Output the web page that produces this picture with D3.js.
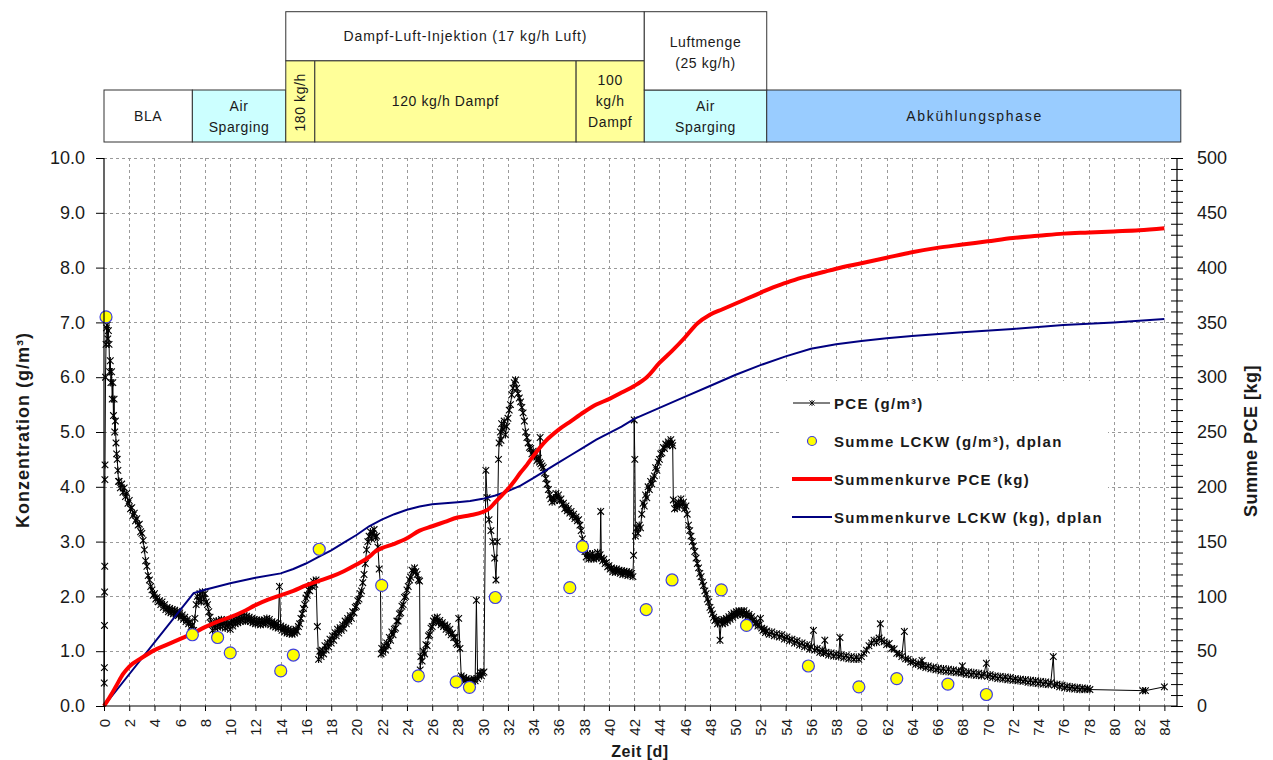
<!DOCTYPE html>
<html><head><meta charset="utf-8">
<script src="https://cdn.jsdelivr.net/npm/d3@7"></script>
<style>
body{margin:0;background:#fff;}
svg{display:block;font-family:"Liberation Sans",Arial,sans-serif;}
</style></head><body>
<svg id="chart" width="1273" height="760"></svg>
<script>
// ---------- data ----------
const xTicks = d3.range(0, 85, 2);          // Zeit [d]
const yTicks = d3.range(0, 11, 1);          // Konzentration (g/m³)
const y2Ticks = d3.range(0, 501, 10);       // Summe PCE [kg], tick marks
const y2Labels = d3.range(0, 501, 50);      // Summe PCE [kg], labelled ticks

// PCE concentration in soil air [day, g/m³]
const pceSeries = [
 [0.02,0.42],[0.03,0.70],[0.04,1.47],[0.05,2.08],[0.06,2.55],[0.07,4.13],[0.08,4.40],[0.12,6.0],[0.16,6.6],
 [0.2,6.9],[0.25,6.95],[0.3,6.7],[0.35,6.85],[0.4,6.6],[0.45,6.1],[0.5,6.3],[0.55,5.9],[0.6,6.1],[0.65,5.6],
 [0.7,5.9],[0.75,5.3],[0.8,5.6],[0.85,5.0],[0.9,5.2],[0.95,4.8],[1.0,4.6],[1.05,4.5],[1.1,4.3],[1.15,4.1],
 [1.2,4.1],[1.3,3.98],[1.4,4.05],[1.5,3.9],[1.6,3.98],[1.7,3.82],[1.8,3.88],[1.9,3.7],[2.0,3.75],[2.1,3.6],
 [2.2,3.62],[2.3,3.48],[2.4,3.52],[2.5,3.38],[2.6,3.42],[2.7,3.3],[2.8,3.32],[2.9,3.18],[3.0,3.15],[3.1,3.02],
 [3.2,2.85],[3.3,2.65],[3.4,2.55],[3.5,2.38],[3.6,2.3],[3.7,2.18],[3.8,2.12],[3.9,2.02],[4.0,2.05],[4.1,1.95],
 [4.2,1.98],[4.3,1.9],[4.4,1.92],[4.5,1.85],[4.6,1.9],[4.7,1.8],[4.8,1.85],[4.9,1.76],[5.0,1.8],[5.1,1.72],
 [5.2,1.78],[5.3,1.7],[5.4,1.76],[5.5,1.68],[5.6,1.75],[5.7,1.68],[5.8,1.73],[5.9,1.65],[6.0,1.7],[6.1,1.62],
 [6.2,1.66],[6.3,1.58],[6.4,1.62],[6.5,1.54],[6.6,1.58],[6.7,1.5],[6.8,1.54],[6.9,1.45],[7.0,1.48],[7.1,1.38],
 [7.2,1.6],[7.3,1.85],[7.4,2.0],[7.5,1.92],[7.6,2.05],[7.7,1.9],[7.8,2.08],[7.9,1.95],[8.0,2.05],[8.1,1.9],
 [8.2,1.85],[8.3,1.72],[8.4,1.62],[8.5,1.5],[8.6,1.38],[8.7,1.5],[8.8,1.42],[8.9,1.55],[9.0,1.44],[9.1,1.55],
 [9.2,1.45],[9.3,1.58],[9.4,1.46],[9.5,1.56],[9.6,1.42],[9.7,1.54],[9.8,1.44],[9.9,1.52],[10.0,1.4],[10.1,1.55],
 [10.2,1.46],[10.3,1.58],[10.4,1.5],[10.5,1.6],[10.6,1.52],[10.7,1.62],[10.8,1.54],[10.9,1.64],[11.0,1.56],
 [11.1,1.65],[11.2,1.55],[11.3,1.64],[11.4,1.56],[11.5,1.62],[11.6,1.54],[11.7,1.6],[11.8,1.52],[11.9,1.58],
 [12.0,1.5],[12.1,1.57],[12.2,1.5],[12.3,1.56],[12.4,1.48],[12.5,1.56],[12.6,1.5],[12.7,1.57],[12.8,1.5],
 [12.9,1.6],[13.0,1.52],[13.1,1.58],[13.2,1.48],[13.3,1.54],[13.4,1.46],[13.5,1.52],[13.6,1.44],[13.7,1.5],
 [13.8,1.42],[13.9,2.18],[14.0,1.46],[14.1,1.38],[14.2,1.44],[14.3,1.35],[14.4,1.42],[14.5,1.33],[14.6,1.4],
 [14.7,1.32],[14.8,1.38],[14.9,1.31],[15.0,1.37],[15.1,1.33],[15.2,1.4],[15.3,1.36],[15.4,1.45],[15.5,1.5],
 [15.6,1.6],[15.7,1.68],[15.8,1.78],[15.9,1.85],[16.0,1.97],[16.1,2.02],[16.2,2.12],[16.3,2.1],[16.4,2.2],
 [16.5,2.18],[16.6,2.27],[16.7,2.22],[16.8,2.3],[16.9,1.45],[17.0,0.85],[17.1,1.0],[17.2,0.9],[17.3,1.02],
 [17.4,0.95],[17.5,1.1],[17.6,1.02],[17.7,1.15],[17.8,1.08],[17.9,1.22],[18.0,1.15],[18.1,1.28],[18.2,1.2],
 [18.3,1.34],[18.4,1.28],[18.5,1.4],[18.6,1.33],[18.7,1.43],[18.8,1.38],[18.9,1.48],[19.0,1.42],[19.1,1.55],
 [19.2,1.5],[19.3,1.6],[19.4,1.55],[19.5,1.65],[19.6,1.6],[19.7,1.72],[19.8,1.7],[19.9,1.8],[20.0,1.82],
 [20.1,1.92],[20.2,1.95],[20.3,2.05],[20.4,2.1],[20.5,2.25],[20.6,2.4],[20.7,2.6],[20.8,2.85],[20.9,3.0],
 [21.0,3.1],[21.1,3.18],[21.2,3.05],[21.3,3.15],[21.4,3.22],[21.5,3.08],[21.6,3.1],[21.7,2.9],[21.8,2.5],
 [21.9,2.2],[21.95,0.95],[22.0,1.05],[22.1,0.98],[22.2,1.1],[22.3,1.02],[22.4,1.15],[22.5,1.1],[22.6,1.25],
 [22.7,1.2],[22.8,1.35],[22.9,1.3],[23.0,1.4],[23.1,1.42],[23.2,1.55],[23.3,1.55],[23.4,1.68],[23.5,1.7],
 [23.6,1.82],[23.7,1.85],[23.8,1.98],[23.9,2.0],[24.0,2.12],[24.1,2.18],[24.2,2.3],[24.3,2.35],[24.4,2.48],
 [24.5,2.45],[24.6,2.52],[24.7,2.45],[24.8,2.4],[24.9,2.3],[25.0,2.28],[25.05,0.66],[25.1,0.9],[25.2,0.82],
 [25.3,1.0],[25.4,0.95],[25.5,1.12],[25.6,1.1],[25.7,1.28],[25.8,1.3],[25.9,1.42],[26.0,1.45],[26.1,1.55],
 [26.2,1.6],[26.3,1.55],[26.4,1.62],[26.5,1.52],[26.6,1.56],[26.7,1.48],[26.8,1.52],[26.9,1.45],[27.0,1.48],
 [27.1,1.4],[27.2,1.45],[27.3,1.35],[27.4,1.4],[27.5,1.3],[27.6,1.33],[27.7,1.25],[27.8,1.25],[27.9,1.15],
 [28.0,1.12],[28.1,1.6],[28.2,1.05],[28.3,0.55],[28.4,0.5],[28.5,0.52],[28.6,0.46],[28.7,0.5],[28.8,0.44],
 [28.9,0.48],[29.0,0.44],[29.1,0.47],[29.2,0.45],[29.3,0.5],[29.4,0.46],[29.5,1.93],[29.6,0.5],[29.7,0.55],
 [29.8,0.62],[29.9,0.55],[30.0,0.6],[30.1,0.62],[30.25,4.3],[30.35,3.8],[30.5,3.4],[30.65,3.2],[30.8,3.0],
 [30.95,2.7],[31.05,2.3],[31.15,3.0],[31.25,4.5],[31.3,4.8],[31.4,5.0],[31.45,4.85],[31.5,5.15],[31.6,5.05],
 [31.7,5.2],[31.8,4.95],[31.9,5.1],[32.0,5.25],[32.1,5.4],[32.2,5.5],[32.3,5.68],[32.4,5.8],[32.5,5.9],
 [32.6,5.95],[32.7,5.8],[32.8,5.7],[32.9,5.62],[33.0,5.55],[33.1,5.45],[33.2,5.35],[33.3,5.2],[33.4,5.0],
 [33.5,4.9],[33.6,4.8],[33.7,4.72],[33.8,4.7],[33.9,4.6],[34.0,4.65],[34.1,4.55],[34.2,4.6],[34.3,4.48],
 [34.4,4.52],[34.5,4.45],[34.55,4.9],[34.6,4.42],[34.7,4.38],[34.8,4.35],[34.9,4.25],[35.0,4.15],[35.1,4.05],
 [35.2,3.95],[35.3,3.85],[35.4,3.78],[35.5,3.72],[35.6,3.8],[35.7,3.75],[35.8,3.88],[35.9,3.8],[36.0,3.85],
 [36.1,3.75],[36.2,3.78],[36.3,3.68],[36.4,3.7],[36.5,3.6],[36.6,3.65],[36.7,3.56],[36.8,3.6],[36.9,3.52],
 [37.0,3.55],[37.1,3.46],[37.2,3.5],[37.3,3.42],[37.4,3.45],[37.5,3.38],[37.6,3.4],[37.7,3.3],[37.8,3.2],
 [37.9,3.05],[38.0,2.95],[38.1,2.82],[38.2,2.72],[38.3,2.78],[38.4,2.68],[38.5,2.76],[38.6,2.7],[38.7,2.78],
 [38.8,2.68],[38.9,2.74],[39.0,2.7],[39.1,2.8],[39.2,2.72],[39.3,2.76],[39.35,3.55],[39.4,2.7],[39.5,2.65],
 [39.6,2.68],[39.7,2.6],[39.8,2.62],[39.9,2.54],[40.0,2.56],[40.1,2.5],[40.2,2.52],[40.3,2.45],[40.4,2.5],
 [40.5,2.44],[40.6,2.5],[40.7,2.46],[40.8,2.48],[40.9,2.42],[41.0,2.47],[41.1,2.4],[41.2,2.46],[41.3,2.42],
 [41.4,2.45],[41.5,2.38],[41.6,2.44],[41.7,2.4],[41.8,2.42],[41.9,2.36],[41.95,2.75],[42.0,5.22],[42.05,4.5],
 [42.1,3.1],[42.2,3.25],[42.3,3.15],[42.4,3.3],[42.5,3.25],[42.6,3.5],[42.7,3.7],[42.8,3.65],[42.9,3.85],
 [43.0,3.8],[43.1,4.0],[43.2,3.95],[43.3,4.1],[43.4,4.05],[43.5,4.15],[43.6,4.2],[43.7,4.35],[43.8,4.3],
 [43.9,4.45],[44.0,4.5],[44.1,4.6],[44.2,4.62],[44.3,4.72],[44.4,4.7],[44.5,4.78],[44.6,4.75],[44.7,4.82],
 [44.8,4.78],[44.9,4.86],[45.0,4.8],[45.05,4.75],[45.1,3.76],[45.2,3.6],[45.3,3.7],[45.4,3.62],[45.5,3.72],
 [45.6,3.65],[45.7,3.78],[45.8,3.68],[45.9,3.72],[46.0,3.6],[46.1,3.65],[46.2,3.5],[46.3,3.3],[46.4,3.2],
 [46.5,3.1],[46.6,3.0],[46.7,2.92],[46.8,2.82],[46.9,2.7],[47.0,2.6],[47.1,2.52],[47.2,2.42],[47.3,2.36],
 [47.4,2.26],[47.5,2.2],[47.6,2.1],[47.7,2.05],[47.8,1.95],[47.9,1.9],[48.0,1.8],[48.1,1.75],[48.2,1.68],
 [48.3,1.62],[48.4,1.56],[48.5,1.58],[48.6,1.5],[48.7,1.55],[48.8,1.2],[48.9,1.56],[49.0,1.5],[49.1,1.58],
 [49.2,1.52],[49.3,1.6],[49.4,1.55],[49.5,1.63],[49.6,1.58],[49.7,1.67],[49.8,1.62],[49.9,1.7],[50.0,1.65],
 [50.1,1.72],[50.2,1.67],[50.3,1.74],[50.4,1.68],[50.5,1.73],[50.6,1.67],[50.7,1.74],[50.8,1.66],[50.9,1.7],
 [51.0,1.63],[51.1,1.67],[51.2,1.6],[51.3,1.63],[51.4,1.55],[51.5,1.58],[51.6,1.5],[51.7,1.53],[51.8,1.46],
 [51.9,1.48],[52.0,1.6],[52.1,1.42],[52.2,1.38],[52.3,1.4],[52.4,1.34],[52.5,1.37],[52.7,1.31],[52.9,1.35],
 [53.1,1.28],[53.3,1.32],[53.5,1.26],[53.7,1.3],[53.9,1.22],[54.1,1.26],[54.3,1.19],[54.5,1.22],[54.7,1.15],
 [54.9,1.19],[55.1,1.11],[55.3,1.15],[55.5,1.08],[55.7,1.12],[55.9,1.04],[56.0,1.08],[56.2,1.38],[56.3,1.02],
 [56.5,1.05],[56.7,0.98],[56.9,1.02],[57.0,0.96],[57.1,1.2],[57.2,0.98],[57.4,0.93],[57.6,0.97],[57.8,0.91],
 [58.0,0.95],[58.2,0.9],[58.3,1.25],[58.4,0.93],[58.6,0.88],[58.8,0.92],[59.0,0.86],[59.2,0.9],[59.4,0.85],
 [59.6,0.89],[59.8,0.85],[60.0,0.9],[60.2,0.96],[60.4,1.02],[60.6,1.1],[60.8,1.15],[61.0,1.2],[61.2,1.16],
 [61.4,1.24],[61.5,1.5],[61.6,1.2],[61.8,1.17],[62.0,1.12],[62.2,1.14],[62.4,1.05],[62.6,1.04],[62.8,0.96],
 [63.0,0.95],[63.2,0.9],[63.4,1.36],[63.5,0.86],[63.7,0.85],[63.9,0.8],[64.1,0.81],[64.3,0.76],[64.5,0.78],
 [64.7,0.73],[64.8,0.83],[64.9,0.74],[65.1,0.7],[65.3,0.73],[65.5,0.68],[65.7,0.71],[65.9,0.66],[66.1,0.69],
 [66.3,0.64],[66.5,0.68],[66.7,0.63],[66.9,0.67],[67.1,0.62],[67.3,0.66],[67.5,0.61],[67.7,0.64],[67.9,0.6],
 [68.0,0.73],[68.1,0.62],[68.3,0.58],[68.5,0.62],[68.7,0.57],[68.9,0.61],[69.1,0.56],[69.3,0.6],[69.5,0.55],
 [69.7,0.58],[69.9,0.78],[70.0,0.54],[70.2,0.57],[70.4,0.52],[70.6,0.55],[70.8,0.5],[71.0,0.54],[71.2,0.49],
 [71.4,0.53],[71.6,0.48],[71.8,0.52],[72.0,0.47],[72.2,0.5],[72.4,0.46],[72.6,0.49],[72.8,0.45],[73.0,0.48],
 [73.2,0.43],[73.4,0.47],[73.6,0.42],[73.8,0.46],[74.0,0.41],[74.2,0.45],[74.4,0.4],[74.6,0.44],[74.8,0.39],
 [75.0,0.42],[75.2,0.9],[75.3,0.38],[75.5,0.4],[75.7,0.35],[75.9,0.38],[76.1,0.33],[76.3,0.36],[76.5,0.32],
 [76.7,0.35],[76.9,0.31],[77.1,0.34],[77.3,0.3],[77.5,0.33],[77.7,0.3],[77.9,0.32],[78.1,0.3],[82.3,0.28],
 [82.5,0.28],[84.0,0.35]
];

// Summe LCKW, dplan [day, g/m³]
const lckwPoints = [
 [0.16,7.10],[7.0,1.30],[9.0,1.25],[10.0,0.97],[14.0,0.64],[15.0,0.93],[17.05,2.86],[22.0,2.2],[24.9,0.55],
 [27.9,0.44],[28.95,0.34],[31.0,1.98],[36.9,2.16],[37.9,2.91],[42.95,1.76],[45.0,2.3],[48.9,2.12],[50.9,1.47],
 [55.8,0.73],[59.8,0.35],[62.8,0.5],[66.85,0.4],[69.9,0.21]
];

// Summenkurve PCE [day, kg]
const pceCumulative = [
 [0,0],[0.5,9],[1,19],[1.5,29],[2,36],[3,44],[4,51],[5,56],[6,61],[7,66],[8,72],[9,77],[10,81],[11,86],
 [12,92],[13,97],[14,101],[15,105],[16,110],[17,114],[18,118],[19,123],[20,129],[21,136],[21.5,141],[22,144],
 [23,148],[24,153],[25,160],[26,164],[27,168],[28,172],[29,174],[30,177],[30.5,180],[31,186],[31.5,192],
 [32,198],[32.5,205],[33,213],[33.5,220],[34,228],[35,242],[36,252],[37,260],[38,268],[39,275],[40,280],
 [41,286],[42,292],[43,300],[44,313],[45,324],[46,336],[47,349],[48,357],[49,362],[50,367],[51,372],[52,377],
 [53,382],[54,386],[55,390],[56,393],[57,396],[58,399],[60,404],[62,409],[64,414],[66,418],[68,421],[70,424],
 [72,427],[74,429],[76,431],[78,432],[80,433],[82,434],[84,436]
];

// Summenkurve LCKW, dplan [day, kg]
const lckwCumulative = [
 [0,0],[7.1,103],[8,106],[9,109],[10,112],[12,117],[14,121],[15,125],[16,130],[17,136],[18,142],[19,149],
 [20,156],[21,164],[22,170],[23,175],[24,179],[25,182],[26,184],[27,185],[28,186],[29,187],[30,189],[31,192],
 [32,196],[33,201],[34,208],[35,215],[36,222],[37,229],[38,236],[39,243],[40,249],[41,255],[42,262],[43,267],
 [44,272],[46,282],[48,292],[50,302],[52,311],[54,319],[56,326],[58,330],[60,333],[62,335.5],[64,337.6],
 [68,341],[72,344],[76,347.6],[80,350],[84,353]
];

// Operating phases (day boundaries) shown above the plot
const phaseBounds = [0, 7, 14.4, 16.7, 37.4, 42.8, 52.5, 85.3];
const phaseLabels = [["BLA"], ["Air", "Sparging"], ["180 kg/h"], ["120 kg/h Dampf"], ["100", "kg/h", "Dampf"], ["Air", "Sparging"], ["Abkühlungsphase"]];
const phaseFills = ["#ffffff", "#ccffff", "#ffff99", "#ffff99", "#ffff99", "#ccffff", "#99ccff"];
const injectionSpan = [14.4, 42.8];
const injectionLabel = "Dampf-Luft-Injektion (17 kg/h Luft)";
const airRateSpan = [42.8, 52.5];
const airRateLabel = ["Luftmenge", "(25 kg/h)"];

const legendLabels = ["PCE (g/m³)", "Summe LCKW (g/m³), dplan", "Summenkurve PCE (kg)", "Summenkurve LCKW (kg), dplan"];

// ---------- scales ----------
const svg = d3.select("#chart");
const x = d3.scaleLinear().domain([0, 85]).range([104, 1177]);
const y = d3.scaleLinear().domain([0, 10]).range([706, 158]);
const y2 = d3.scaleLinear().domain([0, 500]).range([706, 158]);
const textCol = "#1a1a1a";

// ---------- grid ----------
const grid = svg.append("g").attr("stroke", "#9a9a9a").attr("stroke-dasharray", "3,3").attr("stroke-width", 1);
grid.selectAll("line.h").data(yTicks.filter(v => v > 0)).join("line")
  .attr("x1", x(0)).attr("x2", x(85)).attr("y1", d => Math.round(y(d)) + 0.5).attr("y2", d => Math.round(y(d)) + 0.5);
grid.selectAll("line.v").data(xTicks.filter(v => v > 0)).join("line")
  .attr("y1", y(10)).attr("y2", y(0)).attr("x1", d => Math.round(x(d)) + 0.5).attr("x2", d => Math.round(x(d)) + 0.5);

// ---------- legend background ----------
svg.append("rect").attr("x", 781).attr("y", 381).attr("width", 327).attr("height", 159).attr("fill", "#fff");

// ---------- series ----------
const lineY = d3.line().x(d => x(d[0])).y(d => y(d[1]));
const lineY2 = d3.line().x(d => x(d[0])).y(d => y2(d[1]));

svg.append("path").datum(pceSeries).attr("d", lineY).attr("fill", "none").attr("stroke", "#000").attr("stroke-width", 1);
const star = "M-3.3,-3.3L3.3,3.3M-3.3,3.3L3.3,-3.3M0,-3.7L0,3.7";
svg.append("g").selectAll("path").data(pceSeries).join("path")
  .attr("d", star).attr("transform", d => `translate(${x(d[0])},${y(d[1])})`)
  .attr("fill", "none").attr("stroke", "#000").attr("stroke-width", 1.1);

svg.append("path").datum(lckwCumulative).attr("d", lineY2).attr("fill", "none")
  .attr("stroke", "#000080").attr("stroke-width", 2);
svg.append("path").datum(pceCumulative).attr("d", lineY2.curve(d3.curveMonotoneX)).attr("fill", "none")
  .attr("stroke", "#ff0000").attr("stroke-width", 4);

svg.append("g").selectAll("circle").data(lckwPoints).join("circle")
  .attr("cx", d => x(d[0])).attr("cy", d => y(d[1])).attr("r", 6)
  .attr("fill", "#ffff00").attr("stroke", "#4040e0").attr("stroke-width", 1.2);

// ---------- axes ----------
const axL = svg.append("g").attr("transform", `translate(${x(0)},0)`)
  .call(d3.axisLeft(y).tickValues(yTicks).tickFormat(d3.format(".1f")).tickSize(8).tickPadding(11));
const axR = svg.append("g").attr("transform", `translate(${x(85)},0)`)
  .call(d3.axisRight(y2).tickValues(y2Ticks).tickFormat(d => y2Labels.includes(d) ? d : "").tickSize(6).tickPadding(14));
axR.selectAll(".tick line").attr("x1", -6).attr("x2", 6);
const axB = svg.append("g").attr("transform", `translate(0,${y(0)})`)
  .call(d3.axisBottom(x).tickValues(xTicks).tickFormat(d3.format("d")).tickSize(5));
axB.selectAll(".tick text").attr("transform", "rotate(-90)").attr("x", -13).attr("y", 0)
  .attr("dy", "0.36em").style("text-anchor", "end");

[axL, axR, axB].forEach(a => {
  a.select(".domain").attr("stroke", "#000").attr("stroke-width", 1.2);
  a.selectAll(".tick line").attr("stroke", "#000");
  a.selectAll(".tick text").attr("fill", textCol).attr("font-family", "Liberation Sans, Arial, sans-serif");
});
axL.selectAll(".tick text").attr("font-size", 18);
axR.selectAll(".tick text").attr("font-size", 18);
axB.selectAll(".tick text").attr("font-size", 15);
axB.select(".domain").attr("d", `M${x(0)},0H${x(85)}`);
axL.select(".domain").attr("d", `M0,${y(10)}V${y(0)}`);
axR.select(".domain").attr("d", `M0,${y2(500)}V${y2(0)}`);

// axis titles
svg.append("text").attr("transform", `translate(29,430) rotate(-90)`).attr("text-anchor", "middle")
  .attr("font-size", 18).attr("font-weight", "bold").attr("letter-spacing", 1).attr("fill", textCol)
  .text("Konzentration (g/m³)");
svg.append("text").attr("transform", `translate(1257,441) rotate(-90)`).attr("text-anchor", "middle")
  .attr("font-size", 18).attr("font-weight", "bold").attr("letter-spacing", 0.5).attr("fill", textCol)
  .text("Summe PCE [kg]");
svg.append("text").attr("x", 640).attr("y", 757).attr("text-anchor", "middle")
  .attr("font-size", 16).attr("font-weight", "bold").attr("letter-spacing", 0.5).attr("fill", textCol)
  .text("Zeit [d]");

// ---------- legend ----------
const leg = svg.append("g").attr("font-size", 15).attr("font-weight", "bold").attr("letter-spacing", 1.3).attr("fill", textCol);
const legY = [403, 441, 479, 517];
leg.selectAll("text").data(legendLabels).join("text")
  .attr("x", 834).attr("y", (d, i) => legY[i] + 5.5).text(d => d);
leg.append("line").attr("x1", 793).attr("x2", 830).attr("y1", legY[0]).attr("y2", legY[0]).attr("stroke", "#000");
leg.append("path").attr("d", "M-2.5,-2.5L2.5,2.5M-2.5,2.5L2.5,-2.5M0,-3L0,3").attr("transform", `translate(812,${legY[0]})`)
  .attr("fill", "none").attr("stroke", "#000").attr("stroke-width", 0.9);
leg.append("circle").attr("cx", 812).attr("cy", legY[1]).attr("r", 4.5).attr("fill", "#ffff00").attr("stroke", "#4040e0").attr("stroke-width", 1.2);
leg.append("line").attr("x1", 792).attr("x2", 832).attr("y1", legY[2]).attr("y2", legY[2]).attr("stroke", "#ff0000").attr("stroke-width", 4);
leg.append("line").attr("x1", 792).attr("x2", 832).attr("y1", legY[3]).attr("y2", legY[3]).attr("stroke", "#000080").attr("stroke-width", 2);

// ---------- phase boxes ----------
const hdr = svg.append("g").attr("font-size", 14).attr("fill", textCol);
const boxStroke = "#333";
const rowTop = 90, rowBot = 142, steamTop = 60.7, upperTop = 11.7;

phaseLabels.forEach((lines, i) => {
  const x0 = x(phaseBounds[i]), x1 = x(phaseBounds[i + 1]);
  const steam = phaseFills[i] === "#ffff99";
  const top = steam ? steamTop : rowTop;
  hdr.append("rect").attr("x", x0).attr("y", top).attr("width", x1 - x0).attr("height", rowBot - top)
    .attr("fill", phaseFills[i]).attr("stroke", boxStroke).attr("stroke-width", 1);
  const cx = (x0 + x1) / 2, cy = (top + rowBot) / 2;
  if (lines[0] === "180 kg/h") {
    hdr.append("text").attr("transform", `translate(${cx + 5},${cy + 1}) rotate(-90)`).attr("text-anchor", "middle")
      .attr("letter-spacing", 0.6).text(lines[0]);
    return;
  }
  const step = 21;
  lines.forEach((t, j) => {
    const txt = hdr.append("text").attr("x", cx).attr("y", cy + (j - (lines.length - 1) / 2) * step + 5)
      .attr("text-anchor", "middle").attr("letter-spacing", 0.6).text(t);
    if (t === "Abkühlungsphase") txt.attr("textLength", 135).attr("lengthAdjust", "spacing").attr("letter-spacing", null);
  });
});

// upper row: steam-air injection and air rate
{
  const x0 = x(injectionSpan[0]), x1 = x(injectionSpan[1]);
  hdr.append("rect").attr("x", x0).attr("y", upperTop).attr("width", x1 - x0).attr("height", steamTop - upperTop)
    .attr("fill", "#fff").attr("stroke", boxStroke);
  hdr.append("text").attr("x", (x0 + x1) / 2).attr("y", (upperTop + steamTop) / 2 + 5).attr("text-anchor", "middle")
    .attr("textLength", 243).attr("lengthAdjust", "spacing").text(injectionLabel);
}
{
  const x0 = x(airRateSpan[0]), x1 = x(airRateSpan[1]);
  hdr.append("rect").attr("x", x0).attr("y", upperTop).attr("width", x1 - x0).attr("height", rowTop - upperTop)
    .attr("fill", "#fff").attr("stroke", boxStroke);
  airRateLabel.forEach((t, j) => {
    hdr.append("text").attr("x", (x0 + x1) / 2).attr("y", (upperTop + rowTop) / 2 + 2 + (j - 0.5) * 21 + 5)
      .attr("text-anchor", "middle").attr("letter-spacing", 0.6).text(t);
  });
}
</script>
</body></html>
